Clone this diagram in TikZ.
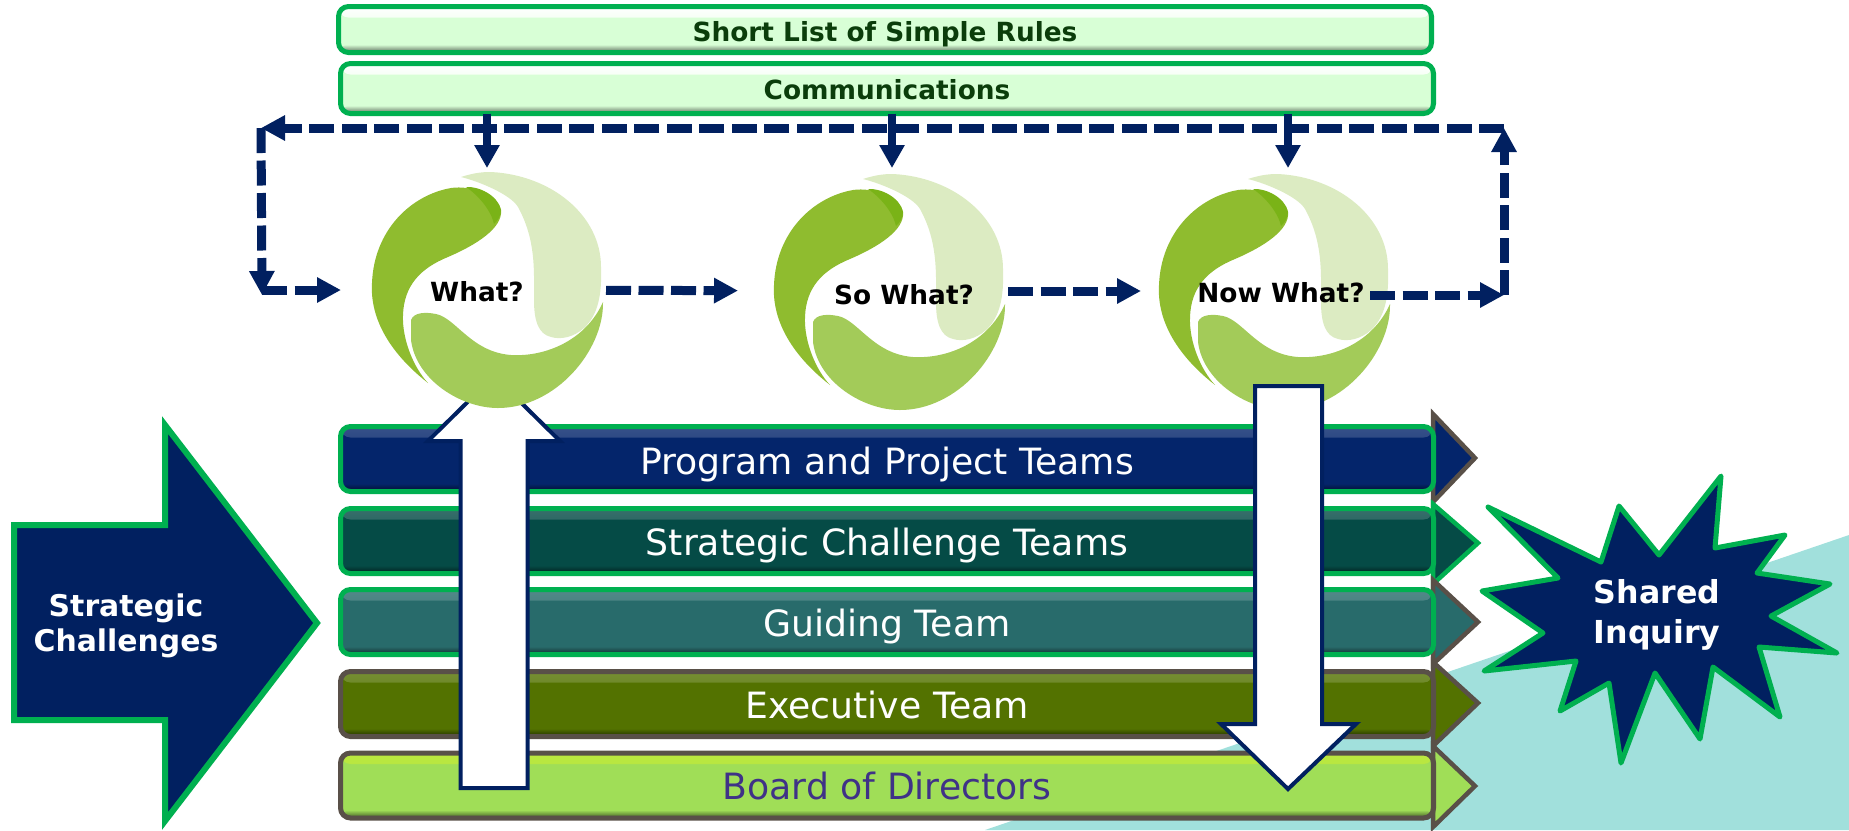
\documentclass[tikz,border=0pt]{standalone}
\usepackage{fontspec}
\setmainfont{DejaVu Sans}
\usetikzlibrary{arrows.meta,positioning,calc}
\definecolor{navy}{HTML}{012060}
\definecolor{leaf}{HTML}{00B050}
\definecolor{slate}{HTML}{595048}
\definecolor{lagoon}{HTML}{A1E0DC}
\definecolor{mint}{HTML}{D8FFD6}
\definecolor{pineink}{HTML}{0B3D0B}
\definecolor{boardink}{HTML}{3F3287}
\definecolor{barblue}{HTML}{04256B}
\definecolor{barpine}{HTML}{054B46}
\definecolor{barteal}{HTML}{286B6B}
\definecolor{barolive}{HTML}{537200}
\definecolor{barlime}{HTML}{A0DE57}
\definecolor{swirltip}{HTML}{7AB317}
\definecolor{swirldark}{HTML}{8FBC2F}
\definecolor{swirlmid}{HTML}{A3CB59}
\definecolor{swirlpale}{HTML}{DCEBC2}
\begin{document}
\begin{tikzpicture}[x=0.1mm,y=-0.1mm]
\tikzset{
    band/.style n args={3}{rectangle,rounded corners=1mm,draw=#1,line width=0.5mm,fill=#2,
        inner sep=0,outer sep=0,minimum width=109.3mm,minimum height=6.5mm,
        path picture={
            \shade[top color=#3,middle color=#3,bottom color=#2] (path picture bounding box.north west)
                rectangle ([yshift=-1.1mm]path picture bounding box.north east);
            \shade[top color=#2,bottom color=black!60!#2] ([yshift=.8mm]path picture bounding box.south west)
                rectangle (path picture bounding box.south east);
            \shade[left color=#2,right color=black!55!#2] ([xshift=-.4mm]path picture bounding box.south east)
                rectangle (path picture bounding box.north east);
        }},
    bandtext/.style={font=\fontsize{10.3}{12}\selectfont,text=white},
    toptext/.style={font=\fontsize{7.5}{9}\selectfont\bfseries,text=pineink},
    asktext/.style={font=\fontsize{7.5}{9}\selectfont\bfseries,text=black,inner sep=0},
    bigtext/.style={text=white,align=center,inner sep=0},
    pointer/.style={line width=0.45mm,miter limit=10},
    blockarrow/.style={draw=navy,fill=white,line width=0.4mm},
    hub/.style={circle,minimum size=23.2mm,inner sep=0,outer sep=0},
    dashflow/.style={draw=navy,line width=0.9mm,dash pattern=on 2.5mm off 0.75mm,
        -{Triangle[length=2.4mm,width=2.4mm]}},
    solidflow/.style={draw=navy,line width=0.8mm,-{Triangle[length=2.3mm,width=2.4mm]}},
    swirl/.pic={
        \fill[color=swirldark] (-58,93) .. controls (-100,60) and (-116,25) .. (-114,-7)
            .. controls (-112,-60) and (-75,-95) .. (-35,-102)
            .. controls (-15,-105) and (12,-95) .. (15,-80)
            .. controls (17,-62) and (-10,-45) .. (-38,-33)
            .. controls (-65,-22) and (-82,-5) .. (-83,25)
            .. controls (-84,50) and (-72,78) .. (-58,93) -- cycle;
        \fill[color=swirltip] (-20,-103) .. controls (-8,-104) and (12,-95) .. (15,-80)
            .. controls (15,-74) and (12,-70) .. (8,-66)
            .. controls (5,-80) and (-8,-95) .. (-20,-103) -- cycle;
        \fill[color=swirlpale] (-25,-113) .. controls (-10,-118) and (0,-118) .. (5,-118)
            .. controls (65,-115) and (115,-75) .. (115,-23)
            .. controls (116,5) and (112,25) .. (98,38)
            .. controls (88,47) and (75,50) .. (65,47)
            .. controls (52,44) and (48,30) .. (48,10)
            .. controls (48,-20) and (50,-50) .. (32,-83)
            .. controls (25,-95) and (-5,-108) .. (-25,-113) -- cycle;
        \fill[color=swirlmid] (-75,30) .. controls (-72,22) and (-60,22) .. (-50,24)
            .. controls (-30,28) and (-15,62) .. (25,65)
            .. controls (60,67) and (100,50) .. (117,12)
            .. controls (118,60) and (70,118) .. (12,118)
            .. controls (-25,118) and (-70,90) .. (-75,50) -- cycle;
    }
}
\useasboundingbox (0,0) rectangle (1849,830);
% backdrop
\fill[lagoon] (985,830) -- (1849,535) -- (1849,830) -- cycle;
% pointers behind the bands
\draw[pointer,draw=slate,fill=barblue] (1433,414) -- (1475,458) -- (1433,502) -- cycle;
\draw[pointer,draw=leaf,fill=barpine] (1433,504) -- (1478,543) -- (1433,584) -- cycle;
\draw[pointer,draw=slate,fill=barteal] (1433,580) -- (1478,622) -- (1433,664) -- cycle;
\draw[pointer,draw=slate,fill=barolive] (1433,662) -- (1478,703) -- (1433,746) -- cycle;
\draw[pointer,draw=slate,fill=barlime] (1433,746) -- (1475,786) -- (1433,827) -- cycle;
% bands
\node[band={leaf}{mint}{white},minimum height=4.6mm] (rules) at (885,29.5) {};
\node[band={leaf}{mint}{white},minimum height=5mm] (comms) at (887,88.5) {};
\node[band={leaf}{barblue}{barblue!80!white}] (program) at (887,459) {};
\node[band={leaf}{barpine}{barpine!80!white}] (challenge) at (887,541) {};
\node[band={leaf}{barteal}{barteal!80!white}] (guiding) at (887,622) {};
\node[band={slate}{barolive}{barolive!80!white}] (executive) at (887,704) {};
\node[band={slate}{barlime}{barlime!70!yellow}] (board) at (887,785.5) {};
% band labels
\node[toptext] (ruleslabel) at (885,34) {Short List of Simple Rules};
\node[toptext] (commslabel) at (887,90) {Communications};
\node[bandtext] (programlabel) at (887,464.5) {Program and Project Teams};
\node[bandtext] (challengelabel) at (887,545.5) {Strategic Challenge Teams};
\node[bandtext] (guidinglabel) at (887,626.5) {Guiding Team};
\node[bandtext] (executivelabel) at (887,705) {Executive Team};
\node[bandtext,text=boardink] (boardlabel) at (887,786) {Board of Directors};
% up arrow goes under the first swirl
\draw[blockarrow] (460.5,788) -- (460.5,441) -- (428,441) -- (494,376) -- (560,441) -- (527.5,441) -- (527.5,788) -- cycle;
% swirls
\pic at (486,290) {swirl};
\pic at (888,292) {swirl};
\pic at (1273,292) {swirl};
\node[hub] (hub1) at (486,290) {};
\node[hub] (hub2) at (888,291) {};
\node[hub] (hub3) at (1273,291) {};
\node[asktext] (what) at (477,292) {What?};
\node[asktext] (sowhat) at (904,295) {So What?};
\node[asktext] (nowwhat) at (1281,293) {Now What?};
% down arrow goes over the third swirl
\draw[blockarrow] (1255,386) -- (1322,386) -- (1322,724) -- (1356,724) -- (1288,789) -- (1221,724) -- (1255,724) -- cycle;
% big shapes
\draw[draw=leaf,fill=navy,line width=0.6mm,miter limit=10]
    (14,525) -- (165,525) -- (165,425) -- (317,623) -- (165,821) -- (165,720) -- (14,720) -- cycle;
\node[bigtext,font=\fontsize{8.5}{10}\selectfont\bfseries] (strategic) at (126,626) {Strategic\\Challenges};
\draw[draw=leaf,fill=navy,line width=0.5mm,line join=round]
    (1488,507) -- (1601,562) -- (1619,506) -- (1659,555) -- (1721,476) -- (1715,548) -- (1785,535)
    -- (1757,573) -- (1830,584) -- (1771,616) -- (1837,653) -- (1759,647) -- (1780,717) -- (1713,667)
    -- (1700,739) -- (1655,673) -- (1621,763) -- (1609,683) -- (1560,711) -- (1576,661) -- (1484,671)
    -- (1543,633) -- (1482,591) -- (1558,578) -- cycle;
\node[bigtext,font=\fontsize{9}{11.4}\selectfont\bfseries] (inquiry) at (1657,615) {Shared\\Inquiry};
% feedback corners
\coordinate (topleft) at (261,128);
\coordinate (botleft) at (262,295);
\coordinate (midleft) at (262,290);
\coordinate (topright) at (1504,128);
\coordinate (botright) at (1504,295);
\coordinate (nowout) at (1370,295);
\coordinate (tip1) at (487,168);
\coordinate (tip2) at (892,168);
\coordinate (tip3) at (1288,168);
% dashed loop
\path
(topright) edge[dashflow] (topleft)
(topleft) edge[dashflow] (botleft)
(midleft) edge[dashflow,shorten >=2.9mm] (hub1)
(hub1) edge[dashflow,shorten <=0.4mm,shorten >=3.4mm] (hub2)
(hub2) edge[dashflow,shorten <=0.4mm,shorten >=1.6mm] (hub3)
(nowout) edge[dashflow] (botright)
(botright) edge[dashflow] (topright)
;
% drops from the communications band
\path
(comms.south -| tip1) edge[solidflow] (tip1)
(comms.south -| tip2) edge[solidflow] (tip2)
(comms.south -| tip3) edge[solidflow] (tip3)
;
\end{tikzpicture}
\end{document}
